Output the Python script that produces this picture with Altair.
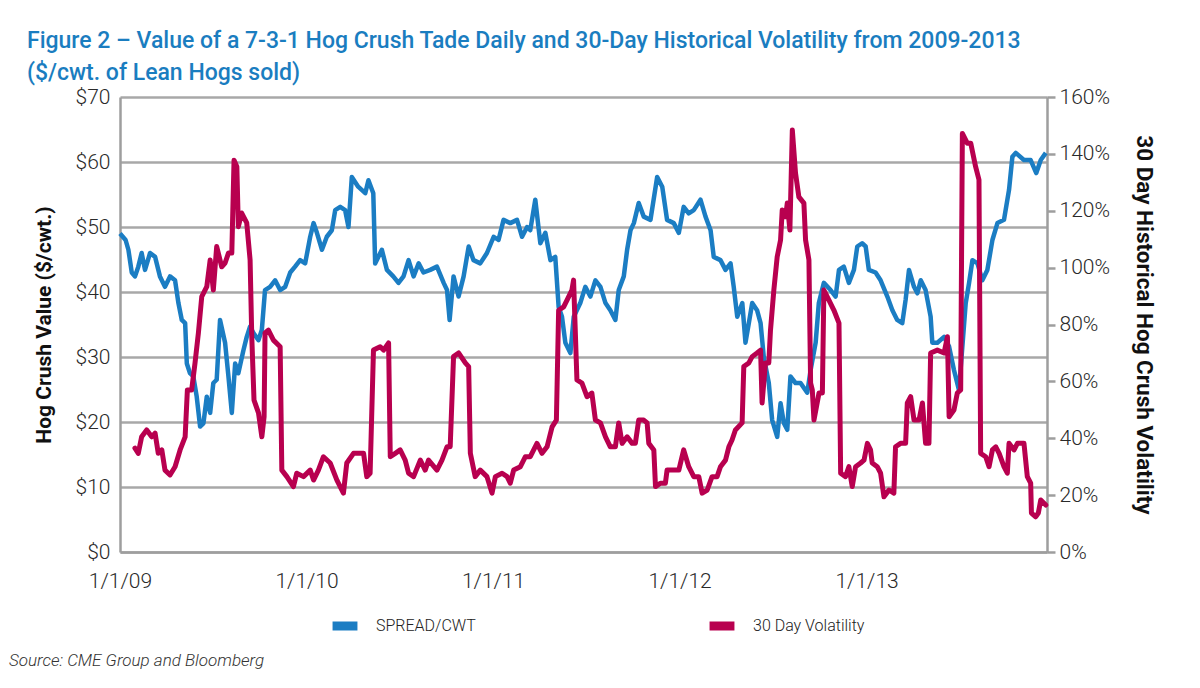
import altair as alt
import pandas as pd

# decimal-year positions and values
spread_t = [2009.00, 2009.03, 2009.045, 2009.063, 2009.08, 2009.098, 2009.116, 2009.134, 2009.161, 2009.188,
            2009.214, 2009.241, 2009.268, 2009.295, 2009.313, 2009.331, 2009.349, 2009.358, 2009.375, 2009.393,
            2009.411, 2009.429, 2009.447, 2009.465, 2009.483, 2009.50, 2009.518, 2009.536, 2009.563, 2009.581,
            2009.599, 2009.617, 2009.634, 2009.661, 2009.679, 2009.697, 2009.715, 2009.742, 2009.76, 2009.777,
            2009.804, 2009.831, 2009.858, 2009.885, 2009.912, 2009.938, 2009.965, 2009.992, 2010.019, 2010.037,
            2010.055, 2010.082, 2010.108, 2010.135, 2010.153, 2010.18, 2010.206, 2010.224, 2010.242, 2010.276,
            2010.314, 2010.331, 2010.357, 2010.367, 2010.403, 2010.43, 2010.464, 2010.492, 2010.519, 2010.546,
            2010.573, 2010.60, 2010.626, 2010.662, 2010.698, 2010.734, 2010.752, 2010.766, 2010.787, 2010.814,
            2010.841, 2010.868, 2010.894, 2010.93, 2010.966, 2011.002, 2011.028, 2011.055, 2011.091, 2011.127,
            2011.154, 2011.181, 2011.198, 2011.225, 2011.252, 2011.279, 2011.306, 2011.332, 2011.35, 2011.368,
            2011.386, 2011.413, 2011.431, 2011.466, 2011.493, 2011.52, 2011.547, 2011.574, 2011.601, 2011.627,
            2011.654, 2011.672, 2011.699, 2011.717, 2011.735, 2011.753, 2011.779, 2011.806, 2011.842, 2011.878,
            2011.905, 2011.931, 2011.967, 2011.994, 2012.02, 2012.047, 2012.074, 2012.11, 2012.137, 2012.164,
            2012.181, 2012.217, 2012.244, 2012.271, 2012.288, 2012.307, 2012.334, 2012.351, 2012.369, 2012.387,
            2012.413, 2012.432, 2012.449, 2012.476, 2012.494, 2012.521, 2012.539, 2012.557, 2012.575, 2012.592,
            2012.619, 2012.646, 2012.682, 2012.70, 2012.727, 2012.744, 2012.771, 2012.807, 2012.834, 2012.852,
            2012.878, 2012.905, 2012.932, 2012.95, 2012.976, 2012.995, 2013.012, 2013.048, 2013.075, 2013.111,
            2013.138, 2013.164, 2013.191, 2013.209, 2013.227, 2013.254, 2013.272, 2013.29, 2013.316, 2013.343,
            2013.352, 2013.379, 2013.415, 2013.442, 2013.468, 2013.495, 2013.513, 2013.531, 2013.549, 2013.567,
            2013.594, 2013.62, 2013.647, 2013.674, 2013.701, 2013.736, 2013.763, 2013.781, 2013.799, 2013.843,
            2013.879, 2013.909, 2013.933, 2013.96]
spread_v = [49.0, 48.0, 46.5, 43.0, 42.4, 43.9, 46.0, 43.4, 46.0, 45.4,
            42.4, 40.8, 42.4, 41.8, 38.3, 35.7, 35.2, 29.0, 27.5, 27.0,
            23.9, 19.3, 19.8, 23.9, 21.4, 26.0, 26.5, 35.7, 32.2, 27.0,
            21.4, 29.0, 27.5, 31.0, 33.1, 34.7, 33.7, 32.6, 34.2, 40.3,
            40.8, 41.8, 40.3, 40.8, 43.0, 43.9, 44.9, 44.4, 48.5, 50.6,
            49.1, 46.5, 48.5, 49.5, 52.6, 53.1, 52.6, 50.0, 57.7, 56.2,
            55.2, 57.2, 55.2, 44.4, 46.5, 43.4, 42.4, 41.4, 42.4, 44.9,
            42.4, 44.4, 43.0, 43.4, 43.9, 41.4, 40.3, 35.7, 42.4, 39.3,
            42.4, 47.0, 44.9, 44.4, 46.0, 48.5, 48.0, 51.1, 50.6, 51.1,
            48.5, 50.0, 49.5, 54.2, 47.5, 49.1, 44.9, 45.4, 37.7, 36.2,
            32.2, 30.6, 36.2, 38.3, 40.8, 39.3, 41.8, 40.8, 38.3, 37.2,
            35.7, 40.3, 42.4, 46.5, 49.5, 50.6, 53.7, 51.6, 51.1, 57.7,
            56.2, 51.1, 50.6, 49.1, 53.1, 52.1, 52.6, 54.2, 51.6, 49.5,
            45.4, 44.9, 43.4, 44.4, 40.8, 36.2, 38.3, 32.2, 35.2, 38.3,
            37.2, 35.2, 30.0, 26.0, 20.3, 17.7, 22.9, 19.8, 18.8, 27.0,
            26.0, 26.0, 24.5, 28.0, 32.2, 38.3, 41.4, 40.3, 39.3, 43.4,
            43.9, 41.4, 43.4, 47.0, 47.5, 47.0, 43.4, 43.0, 41.8, 39.3,
            37.2, 35.7, 35.2, 38.8, 43.4, 40.8, 39.8, 41.8, 40.3, 36.2,
            32.2, 32.2, 33.1, 31.6, 28.0, 24.9, 31.6, 38.3, 41.4, 44.9,
            44.4, 41.8, 43.4, 48.0, 50.6, 51.1, 55.7, 60.8, 61.4, 60.3,
            60.3, 58.3, 60.3, 61.4]

vol_t = [2009.08, 2009.098, 2009.116, 2009.143, 2009.17, 2009.188, 2009.205, 2009.224, 2009.241, 2009.268,
         2009.295, 2009.322, 2009.349, 2009.361, 2009.384, 2009.402, 2009.42, 2009.438, 2009.465, 2009.483,
         2009.50, 2009.518, 2009.545, 2009.563, 2009.581, 2009.599, 2009.611, 2009.626, 2009.634, 2009.652,
         2009.679, 2009.697, 2009.706, 2009.718, 2009.742, 2009.76, 2009.772, 2009.777, 2009.795, 2009.822,
         2009.858, 2009.867, 2009.894, 2009.929, 2009.947, 2009.983, 2010.019, 2010.037, 2010.063, 2010.09,
         2010.126, 2010.162, 2010.197, 2010.215, 2010.251, 2010.305, 2010.322, 2010.34, 2010.358, 2010.394,
         2010.412, 2010.439, 2010.448, 2010.475, 2010.501, 2010.528, 2010.546, 2010.573, 2010.609, 2010.635,
         2010.653, 2010.698, 2010.725, 2010.752, 2010.769, 2010.787, 2010.814, 2010.85, 2010.868, 2010.877,
         2010.903, 2010.93, 2010.966, 2010.993, 2011.011, 2011.047, 2011.074, 2011.091, 2011.109, 2011.145,
         2011.172, 2011.198, 2011.234, 2011.261, 2011.288, 2011.315, 2011.338, 2011.35, 2011.377, 2011.395,
         2011.421, 2011.43, 2011.448, 2011.475, 2011.502, 2011.528, 2011.547, 2011.574, 2011.601, 2011.627,
         2011.654, 2011.672, 2011.69, 2011.717, 2011.744, 2011.761, 2011.779, 2011.806, 2011.824, 2011.833,
         2011.86, 2011.869, 2011.895, 2011.922, 2011.931, 2011.967, 2011.994, 2012.02, 2012.047, 2012.074,
         2012.101, 2012.119, 2012.146, 2012.172, 2012.199, 2012.217, 2012.244, 2012.262, 2012.279, 2012.297,
         2012.333, 2012.342, 2012.369, 2012.387, 2012.413, 2012.432, 2012.44, 2012.458, 2012.476, 2012.485,
         2012.503, 2012.521, 2012.539, 2012.548, 2012.566, 2012.575, 2012.589, 2012.602, 2012.619, 2012.637,
         2012.664, 2012.673, 2012.691, 2012.70, 2012.709, 2012.718, 2012.745, 2012.763, 2012.771, 2012.798,
         2012.825, 2012.852, 2012.861, 2012.887, 2012.905, 2012.923, 2012.941, 2012.968, 2012.986, 2013.004,
         2013.021, 2013.03, 2013.057, 2013.075, 2013.093, 2013.12, 2013.146, 2013.155, 2013.182, 2013.209,
         2013.218, 2013.236, 2013.254, 2013.281, 2013.299, 2013.316, 2013.334, 2013.343, 2013.379, 2013.415,
         2013.433, 2013.442, 2013.468, 2013.486, 2013.504, 2013.513, 2013.54, 2013.558, 2013.584, 2013.602,
         2013.611, 2013.638, 2013.656, 2013.674, 2013.692, 2013.71, 2013.736, 2013.754, 2013.763, 2013.79,
         2013.808, 2013.843, 2013.861, 2013.879, 2013.883, 2013.906, 2013.92, 2013.933, 2013.96]
vol_v = [36.5, 34.7, 40.5, 42.9, 40.5, 41.8, 34.7, 35.9, 28.8, 27.1,
         30.0, 35.9, 40.5, 57.0, 57.0, 66.5, 77.0, 89.8, 93.3, 102.7,
         92.1, 107.4, 100.3, 101.6, 105.1, 105.1, 137.8, 135.5, 114.4, 119.2,
         115.7, 102.7, 75.7, 53.4, 48.9, 40.5, 47.6, 77.0, 78.0, 74.5,
         72.2, 28.8, 26.5, 23.0, 27.7, 26.5, 28.8, 25.3, 28.8, 33.5,
         31.3, 25.3, 20.7, 31.3, 34.7, 34.7, 26.5, 27.7, 71.0, 72.2,
         71.0, 73.5, 33.5, 34.7, 35.9, 32.3, 27.7, 26.5, 32.3, 28.8,
         32.3, 28.8, 32.3, 37.0, 37.0, 68.7, 70.0, 66.5, 65.2, 34.7,
         26.5, 28.8, 26.5, 20.7, 26.5, 27.7, 26.5, 24.2, 28.8, 30.0,
         33.5, 33.5, 38.2, 34.7, 37.0, 44.0, 46.4, 85.0, 86.2, 88.6,
         92.1, 95.6, 60.5, 59.4, 54.6, 55.9, 46.4, 45.4, 40.5, 37.0,
         37.0, 45.4, 38.2, 40.5, 38.2, 38.2, 46.4, 46.4, 45.4, 38.2,
         35.9, 23.0, 24.2, 24.2, 28.8, 28.8, 28.8, 35.9, 30.0, 26.5,
         26.5, 20.7, 21.8, 26.5, 26.5, 30.0, 32.3, 37.0, 39.4, 42.9,
         45.4, 65.2, 66.5, 68.7, 70.0, 71.0, 52.4, 66.5, 66.5, 78.0,
         92.1, 103.8, 109.7, 120.3, 117.9, 122.7, 113.2, 148.4, 133.3, 124.9,
         122.7, 109.7, 102.7, 59.4, 57.0, 46.4, 55.9, 55.9, 92.1, 88.6,
         85.0, 80.5, 27.7, 26.5, 30.0, 23.0, 30.0, 31.3, 32.3, 38.2,
         35.9, 31.3, 30.0, 27.7, 19.4, 21.8, 20.7, 37.0, 38.2, 38.2,
         52.4, 54.6, 46.4, 46.4, 52.4, 38.2, 38.2, 70.0, 71.0, 70.0,
         75.7, 47.6, 49.9, 55.9, 57.0, 147.2, 143.7, 143.7, 135.5, 130.9,
         34.7, 33.5, 30.0, 35.9, 37.0, 34.7, 30.0, 27.7, 38.2, 35.9,
         38.2, 38.2, 26.5, 24.2, 13.7, 12.4, 13.7, 18.3, 16.5]

series_names = ["SPREAD/CWT", "30 Day Volatility"]
series_colors = ["#1b7dc3", "#b8004f"]
x_ticks = ["2009-01-01", "2010-01-01", "2011-01-01", "2012-01-01", "2013-01-01"]
left_ticks = [0, 10, 20, 30, 40, 50, 60, 70]
right_ticks = [0, 20, 40, 60, 80, 100, 120, 140, 160]

title_lines = ["Figure 2 \u2013 Value of a 7-3-1 Hog Crush Tade Daily and 30-Day Historical Volatility from 2009-2013",
               "($/cwt. of Lean Hogs sold)"]
source_note = "Source: CME Group and Bloomberg"


def to_date(years):
    base = pd.Timestamp("2009-01-01")
    return [base + pd.to_timedelta((y - 2009.0) * 365.25, unit="D") for y in years]


spread_df = pd.DataFrame({"date": to_date(spread_t), "value": spread_v, "series": series_names[0]})
vol_df = pd.DataFrame({"date": to_date(vol_t), "value": vol_v, "series": series_names[1]})

W, H = 927, 455
FONT = "Roboto"
LABEL_COLOR = "#2a2a2a"
AXIS_GRAY = "#9e9e9e"

x_enc = alt.X("date:T",
              scale=alt.Scale(domain=["2009-01-01", "2013-12-20"]),
              axis=alt.Axis(values=x_ticks, format="%-m/%-d/%y", title=None, grid=False,
                            ticks=False, labelPadding=18, labelFontSize=21, labelFontWeight=300,
                            labelColor=LABEL_COLOR, labelFlush=False,
                            domainColor=AXIS_GRAY, domainWidth=2.5, labelFont=FONT))

color_enc = alt.Color("series:N",
                      scale=alt.Scale(domain=series_names, range=series_colors),
                      legend=alt.Legend(title=None, orient="none", legendX=208, legendY=512,
                                        direction="horizontal", columnPadding=215,
                                        symbolType="stroke", symbolStrokeWidth=9, symbolSize=620,
                                        labelFontSize=16, labelFont=FONT, labelColor="#222222",
                                        labelFontWeight=300, labelOffset=14))

spread_line = alt.Chart(spread_df).mark_line(strokeWidth=4.5, strokeJoin="round").encode(
    x=x_enc,
    y=alt.Y("value:Q", scale=alt.Scale(domain=[0, 70]),
            axis=alt.Axis(values=left_ticks, labelExpr="'$' + datum.value", title="Hog Crush Value ($/cwt.)",
                          titleFontSize=21, titleFontWeight="bold", titleFont=FONT, titleColor="#111111",
                          titlePadding=21, ticks=False, labelPadding=10, labelFontSize=21,
                          labelFontWeight=300, labelFont=FONT, labelColor=LABEL_COLOR,
                          domainColor=AXIS_GRAY, domainWidth=2.5,
                          grid=True, gridColor="#a8a8a8", gridWidth=2.5)),
    color=color_enc,
)

vol_line = alt.Chart(vol_df).mark_line(strokeWidth=5, strokeJoin="round", strokeCap="round").encode(
    x=x_enc,
    y=alt.Y("value:Q", scale=alt.Scale(domain=[0, 160]),
            axis=alt.Axis(values=right_ticks, labelExpr="datum.value + '%'", orient="right",
                          title="30 Day Historical Hog Crush Volatility", titleFontSize=22.5,
                          titleFontWeight="bold", titleFont=FONT, titleColor="#111111", titlePadding=22,
                          ticks=True, tickSize=8, tickColor=AXIS_GRAY, tickWidth=2.5, labelPadding=4,
                          labelFontSize=21, labelFontWeight=300, labelFont=FONT, labelColor=LABEL_COLOR,
                          domainColor=AXIS_GRAY, domainWidth=2.5, grid=False)),
    color=color_enc,
)

source = alt.Chart(pd.DataFrame({"t": [source_note]})).mark_text(
    align="left", baseline="middle", fontSize=17, fontStyle="italic", fontWeight=300, font=FONT,
    color="#333333"
).encode(text="t:N", x=alt.value(-111), y=alt.value(564))

chart = alt.layer(spread_line, vol_line, source).resolve_scale(y="independent").properties(
    width=W, height=H,
    autosize=alt.AutoSizeParams(type="none"),
    padding={"left": 112, "top": 89, "right": 145, "bottom": 128},
    title=alt.TitleParams(text=title_lines, anchor="start", frame="group", dx=-93, dy=1, offset=2,
                          fontSize=23, fontWeight=500, font=FONT, color="#1a7dc0", lineHeight=32),
).configure_view(stroke=None)

chart.save("out.html", embed_options={"renderer": "svg", "actions": False})
